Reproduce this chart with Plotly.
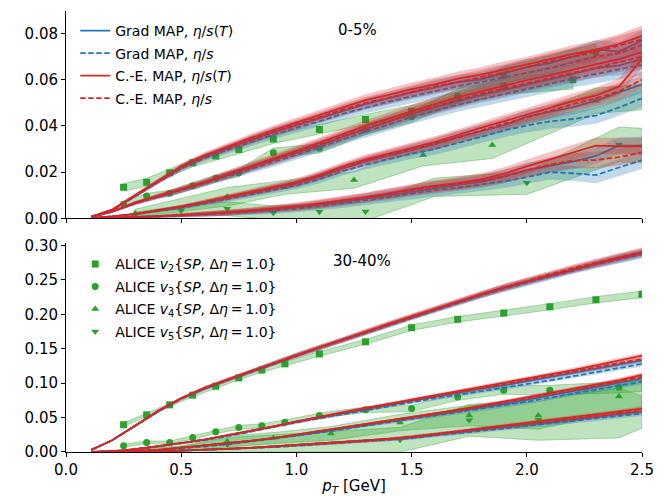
import numpy as np
import plotly.graph_objects as go

# ---------------- model pT grid ----------------
pt = [0.11, 0.2, 0.3, 0.4, 0.5, 0.6, 0.7, 0.8, 0.9, 1.0, 1.1, 1.2, 1.3,
      1.4, 1.5, 1.6, 1.7, 1.8, 1.9, 2.0, 2.1, 2.2, 2.3, 2.4, 2.5]

# ---------------- 0-5% model curves ----------------
top_v2_ce_T = [0.0007, 0.0037, 0.0100, 0.0163, 0.0225, 0.0272, 0.0310, 0.0347, 0.0382, 0.0415, 0.0447, 0.0482, 0.0512,
               0.0535, 0.0560, 0.0580, 0.0605, 0.0622, 0.0645, 0.0665, 0.0690, 0.0712, 0.0730, 0.0755, 0.0790]
top_v2_ce_c = [0.0007, 0.0036, 0.0098, 0.0160, 0.0220, 0.0268, 0.0305, 0.0340, 0.0375, 0.0405, 0.0437, 0.0470, 0.0500,
               0.0522, 0.0548, 0.0572, 0.0590, 0.0610, 0.0632, 0.0655, 0.0680, 0.0700, 0.0722, 0.0748, 0.0775]
top_v2_gr_T = [0.0007, 0.0036, 0.0097, 0.0160, 0.0220, 0.0266, 0.0303, 0.0338, 0.0372, 0.0402, 0.0432, 0.0465, 0.0495,
               0.0520, 0.0545, 0.0566, 0.0590, 0.0602, 0.0628, 0.0655, 0.0672, 0.0700, 0.0732, 0.0722, 0.0770]
top_v2_gr_c = [0.0007, 0.0035, 0.0095, 0.0157, 0.0215, 0.0260, 0.0296, 0.0330, 0.0362, 0.0392, 0.0420, 0.0452, 0.0480,
               0.0505, 0.0528, 0.0550, 0.0572, 0.0590, 0.0610, 0.0632, 0.0650, 0.0675, 0.0700, 0.0715, 0.0750]

top_v3_ce_T = [0.0005, 0.0030, 0.0068, 0.0098, 0.0127, 0.0157, 0.0192, 0.0225, 0.0258, 0.0292, 0.0328, 0.0365, 0.0400,
               0.0432, 0.0465, 0.0495, 0.0525, 0.0550, 0.0575, 0.0598, 0.0620, 0.0645, 0.0668, 0.0690, 0.0720]
top_v3_ce_c = [0.0005, 0.0029, 0.0066, 0.0096, 0.0124, 0.0153, 0.0188, 0.0220, 0.0252, 0.0286, 0.0320, 0.0356, 0.0390,
               0.0420, 0.0455, 0.0485, 0.0512, 0.0540, 0.0562, 0.0585, 0.0610, 0.0630, 0.0652, 0.0675, 0.0700]
top_v3_gr_T = [0.0005, 0.0029, 0.0066, 0.0095, 0.0123, 0.0152, 0.0186, 0.0218, 0.0250, 0.0283, 0.0316, 0.0352, 0.0386,
               0.0418, 0.0452, 0.0480, 0.0508, 0.0532, 0.0555, 0.0578, 0.0600, 0.0625, 0.0650, 0.0662, 0.0690]
top_v3_gr_c = [0.0005, 0.0028, 0.0064, 0.0093, 0.0120, 0.0148, 0.0180, 0.0212, 0.0243, 0.0275, 0.0307, 0.0342, 0.0375,
               0.0405, 0.0438, 0.0465, 0.0492, 0.0515, 0.0538, 0.0560, 0.0582, 0.0605, 0.0625, 0.0645, 0.0665]

top_v4_ce_T = [0.0002, 0.0008, 0.0019, 0.0035, 0.0051, 0.0071, 0.0092, 0.0113, 0.0134, 0.0157, 0.0188, 0.0224, 0.0255,
               0.0280, 0.0305, 0.0330, 0.0360, 0.0392, 0.0420, 0.0448, 0.0478, 0.0508, 0.0532, 0.0570, 0.0690]
top_v4_ce_c = [0.0002, 0.0008, 0.0018, 0.0034, 0.0049, 0.0069, 0.0089, 0.0110, 0.0130, 0.0152, 0.0183, 0.0218, 0.0250,
               0.0275, 0.0300, 0.0322, 0.0350, 0.0380, 0.0410, 0.0436, 0.0465, 0.0495, 0.0520, 0.0550, 0.0600]
top_v4_gr_T = [0.0002, 0.0008, 0.0018, 0.0033, 0.0048, 0.0068, 0.0088, 0.0108, 0.0128, 0.0150, 0.0180, 0.0215, 0.0246,
               0.0270, 0.0296, 0.0320, 0.0352, 0.0378, 0.0402, 0.0440, 0.0462, 0.0482, 0.0510, 0.0545, 0.0580]
top_v4_gr_c = [0.0002, 0.0007, 0.0017, 0.0031, 0.0045, 0.0064, 0.0083, 0.0102, 0.0121, 0.0142, 0.0170, 0.0204, 0.0232,
               0.0256, 0.0280, 0.0300, 0.0325, 0.0352, 0.0380, 0.0402, 0.0420, 0.0430, 0.0445, 0.0480, 0.0520]

top_v5_ce_T = [0.0000, 0.0002, 0.0005, 0.0009, 0.0014, 0.0019, 0.0026, 0.0034, 0.0042, 0.0052, 0.0064, 0.0077, 0.0092,
               0.0108, 0.0126, 0.0140, 0.0152, 0.0168, 0.0192, 0.0225, 0.0255, 0.0285, 0.0315, 0.0312, 0.0312]
top_v5_ce_c = [0.0000, 0.0002, 0.0005, 0.0008, 0.0013, 0.0018, 0.0024, 0.0032, 0.0040, 0.0049, 0.0061, 0.0074, 0.0090,
               0.0106, 0.0122, 0.0138, 0.0150, 0.0162, 0.0182, 0.0208, 0.0232, 0.0250, 0.0252, 0.0265, 0.0285]
top_v5_gr_T = [0.0000, 0.0002, 0.0005, 0.0008, 0.0012, 0.0017, 0.0023, 0.0030, 0.0037, 0.0046, 0.0058, 0.0070, 0.0085,
               0.0100, 0.0117, 0.0132, 0.0145, 0.0158, 0.0180, 0.0210, 0.0228, 0.0245, 0.0270, 0.0315, 0.0315]
top_v5_gr_c = [0.0000, 0.0001, 0.0004, 0.0007, 0.0011, 0.0015, 0.0021, 0.0027, 0.0034, 0.0042, 0.0052, 0.0064, 0.0078,
               0.0092, 0.0108, 0.0122, 0.0132, 0.0145, 0.0160, 0.0178, 0.0200, 0.0195, 0.0187, 0.0220, 0.0252]

top_err_v23 = [0.0002, 0.0005, 0.0008, 0.0010, 0.0012, 0.0014, 0.0016, 0.0018, 0.0020, 0.0021, 0.0022, 0.0024, 0.0025,
               0.0027, 0.0028, 0.0030, 0.0031, 0.0032, 0.0034, 0.0035, 0.0036, 0.0038, 0.0040, 0.0042, 0.0045]
top_err_v45 = [0.0001, 0.0002, 0.0004, 0.0006, 0.0008, 0.0010, 0.0012, 0.0013, 0.0015, 0.0016, 0.0018, 0.0019, 0.0020,
               0.0022, 0.0023, 0.0025, 0.0026, 0.0027, 0.0029, 0.0030, 0.0032, 0.0033, 0.0035, 0.0036, 0.0038]

# ---------------- 30-40% model curves ----------------
bot_v2_ce_T = [0.003, 0.017, 0.038, 0.060, 0.078, 0.093, 0.105, 0.117, 0.129, 0.141, 0.152, 0.163, 0.175,
               0.186, 0.197, 0.208, 0.219, 0.229, 0.239, 0.248, 0.257, 0.266, 0.274, 0.282, 0.290]
bot_v2_ce_c = [0.003, 0.017, 0.038, 0.059, 0.078, 0.093, 0.105, 0.117, 0.129, 0.141, 0.152, 0.163, 0.174,
               0.186, 0.197, 0.208, 0.219, 0.229, 0.239, 0.249, 0.258, 0.267, 0.275, 0.283, 0.291]
bot_v2_gr_T = [0.003, 0.017, 0.038, 0.059, 0.078, 0.092, 0.105, 0.117, 0.129, 0.141, 0.152, 0.163, 0.174,
               0.185, 0.196, 0.207, 0.218, 0.228, 0.238, 0.247, 0.256, 0.265, 0.273, 0.281, 0.288]
bot_v2_gr_c = [0.003, 0.017, 0.038, 0.059, 0.077, 0.092, 0.104, 0.116, 0.128, 0.140, 0.151, 0.162, 0.173,
               0.184, 0.195, 0.206, 0.217, 0.227, 0.237, 0.246, 0.255, 0.264, 0.272, 0.280, 0.287]

bot_v3_ce_T = [0.000, 0.001, 0.004, 0.008, 0.013, 0.018, 0.024, 0.030, 0.037, 0.044, 0.051, 0.058, 0.064,
               0.070, 0.076, 0.082, 0.088, 0.094, 0.100, 0.106, 0.112, 0.119, 0.126, 0.133, 0.140]
bot_v3_ce_c = [0.000, 0.001, 0.004, 0.008, 0.013, 0.018, 0.024, 0.030, 0.037, 0.044, 0.051, 0.057, 0.063,
               0.069, 0.075, 0.081, 0.087, 0.092, 0.098, 0.104, 0.110, 0.116, 0.122, 0.129, 0.135]
bot_v3_gr_T = [0.000, 0.001, 0.004, 0.008, 0.013, 0.018, 0.024, 0.030, 0.037, 0.044, 0.050, 0.057, 0.063,
               0.069, 0.075, 0.081, 0.086, 0.092, 0.097, 0.103, 0.109, 0.115, 0.121, 0.127, 0.133]
bot_v3_gr_c = [0.000, 0.001, 0.004, 0.008, 0.012, 0.017, 0.023, 0.029, 0.036, 0.043, 0.049, 0.055, 0.061,
               0.067, 0.073, 0.078, 0.083, 0.088, 0.093, 0.099, 0.104, 0.110, 0.116, 0.122, 0.128]

bot_v4_ce_T = [0.000, 0.0005, 0.0015, 0.003, 0.006, 0.009, 0.012, 0.016, 0.020, 0.025, 0.030, 0.035, 0.040,
               0.045, 0.050, 0.055, 0.061, 0.067, 0.073, 0.079, 0.085, 0.091, 0.097, 0.104, 0.112]
bot_v4_ce_c = [0.000, 0.0005, 0.0015, 0.003, 0.006, 0.009, 0.012, 0.016, 0.020, 0.025, 0.030, 0.035, 0.040,
               0.045, 0.050, 0.055, 0.060, 0.066, 0.072, 0.078, 0.084, 0.090, 0.096, 0.102, 0.109]
bot_v4_gr_T = [0.000, 0.0005, 0.0015, 0.003, 0.006, 0.009, 0.012, 0.016, 0.020, 0.024, 0.029, 0.034, 0.039,
               0.044, 0.049, 0.054, 0.059, 0.065, 0.070, 0.076, 0.082, 0.088, 0.094, 0.100, 0.107]
bot_v4_gr_c = [0.000, 0.0005, 0.0015, 0.003, 0.005, 0.008, 0.011, 0.015, 0.019, 0.023, 0.028, 0.033, 0.038,
               0.043, 0.047, 0.052, 0.057, 0.062, 0.067, 0.073, 0.079, 0.085, 0.090, 0.096, 0.102]

bot_v5_ce_T = [0.000, 0.000, 0.0005, 0.001, 0.002, 0.003, 0.004, 0.006, 0.008, 0.010, 0.012, 0.014, 0.016,
               0.019, 0.022, 0.026, 0.030, 0.034, 0.038, 0.042, 0.046, 0.050, 0.054, 0.058, 0.063]
bot_v5_ce_c = [0.000, 0.000, 0.0005, 0.001, 0.002, 0.003, 0.004, 0.006, 0.008, 0.010, 0.012, 0.014, 0.016,
               0.019, 0.022, 0.026, 0.029, 0.033, 0.037, 0.041, 0.045, 0.048, 0.052, 0.056, 0.060]
bot_v5_gr_T = [0.000, 0.000, 0.0005, 0.001, 0.002, 0.003, 0.004, 0.006, 0.008, 0.010, 0.012, 0.014, 0.016,
               0.018, 0.021, 0.025, 0.029, 0.033, 0.036, 0.040, 0.043, 0.047, 0.051, 0.055, 0.059]
bot_v5_gr_c = [0.000, 0.000, 0.0005, 0.001, 0.002, 0.003, 0.004, 0.005, 0.007, 0.009, 0.011, 0.013, 0.015,
               0.018, 0.020, 0.024, 0.027, 0.031, 0.034, 0.038, 0.041, 0.045, 0.049, 0.052, 0.056]

bot_err_v2 = [0.0005, 0.0010, 0.0015, 0.0020, 0.0020, 0.0025, 0.0025, 0.0030, 0.0030, 0.0030, 0.0035, 0.0035, 0.0040,
              0.0040, 0.0040, 0.0045, 0.0045, 0.0045, 0.0050, 0.0050, 0.0050, 0.0055, 0.0055, 0.0060, 0.0060]
bot_err_v345 = [0.0001, 0.0002, 0.0004, 0.0006, 0.0008, 0.0010, 0.0012, 0.0013, 0.0015, 0.0016, 0.0018, 0.0019, 0.0020,
                0.0022, 0.0023, 0.0025, 0.0026, 0.0027, 0.0029, 0.0030, 0.0032, 0.0033, 0.0035, 0.0036, 0.0038]

# ---------------- ALICE data, 0-5% ----------------
a_top_v2_pt = [0.25, 0.35, 0.45, 0.55, 0.65, 0.75, 0.9, 1.1, 1.3, 1.5, 1.7, 1.9, 2.2]
a_top_v2 = [0.0134, 0.0156, 0.0197, 0.0240, 0.0270, 0.0298, 0.0343, 0.0385, 0.0428, 0.0464, 0.0519, 0.0572, 0.0600]
a_top_v2_err = [0.0017, 0.0017, 0.0017, 0.0017, 0.0018, 0.0018, 0.0019, 0.0020, 0.0022, 0.0025, 0.0030, 0.0035, 0.0040]
a_top_v3_pt = [0.25, 0.35, 0.45, 0.55, 0.65, 0.75, 0.9, 1.1, 1.3, 1.5, 1.7, 1.9, 2.3]
a_top_v3 = [0.0061, 0.0096, 0.0108, 0.0141, 0.0173, 0.0197, 0.0284, 0.0303, 0.0385, 0.0440, 0.0530, 0.0620, 0.0716]
a_top_v3_err = [0.0012, 0.0012, 0.0013, 0.0014, 0.0015, 0.0016, 0.0020, 0.0020, 0.0022, 0.0025, 0.0030, 0.0035, 0.0040]
a_top_v4_pt = [0.3, 0.7, 0.95, 1.25, 1.55, 1.85, 2.3]
a_top_v4 = [0.0022, 0.0093, 0.0134, 0.0166, 0.0274, 0.0317, 0.0509]
a_top_v4_err = [0.0017, 0.0040, 0.0030, 0.0036, 0.0047, 0.0058, 0.0055]
a_top_v5_pt = [0.3, 0.5, 0.7, 0.9, 1.1, 1.3, 1.6, 2.0, 2.4]
a_top_v5 = [0.0012, 0.0034, 0.0041, 0.0024, 0.0028, 0.0029, 0.0134, 0.0154, 0.0320]
a_top_v5_err = [0.0015, 0.0020, 0.0030, 0.0030, 0.0035, 0.0040, 0.0040, 0.0050, 0.0075]

# ---------------- ALICE data, 30-40% ----------------
a_bot_v2_pt = [0.25, 0.35, 0.45, 0.55, 0.65, 0.75, 0.85, 0.95, 1.1, 1.3, 1.5, 1.7, 1.9, 2.1, 2.3, 2.5]
a_bot_v2 = [0.0396, 0.0540, 0.0685, 0.0826, 0.0956, 0.1077, 0.1190, 0.1280, 0.1425, 0.1600, 0.1806, 0.1927,
            0.2018, 0.2110, 0.2211, 0.2290]
a_bot_v2_err = [0.0025, 0.0025, 0.0025, 0.0025, 0.0030, 0.0030, 0.0030, 0.0030, 0.0035, 0.0035, 0.0040, 0.0040,
                0.0040, 0.0045, 0.0045, 0.0050]
a_bot_v3_pt = [0.25, 0.35, 0.45, 0.55, 0.65, 0.75, 0.85, 0.95, 1.1, 1.3, 1.5, 1.7, 1.9, 2.1, 2.4]
a_bot_v3 = [0.0091, 0.0139, 0.0139, 0.0212, 0.0294, 0.0357, 0.0381, 0.0434, 0.0530, 0.0613, 0.0632, 0.0800,
            0.0898, 0.0898, 0.0940]
a_bot_v3_err = [0.0020, 0.0020, 0.0020, 0.0025, 0.0025, 0.0030, 0.0030, 0.0030, 0.0035, 0.0040, 0.0045, 0.0050,
                0.0060, 0.0070, 0.0080]
a_bot_v4_pt = [0.3, 0.5, 0.7, 0.9, 1.15, 1.45, 1.75, 2.05, 2.4]
a_bot_v4 = [0.0020, 0.0048, 0.0154, 0.0203, 0.0270, 0.0429, 0.0530, 0.0530, 0.0806]
a_bot_v4_err = [0.0030, 0.0040, 0.0080, 0.0080, 0.0100, 0.0120, 0.0150, 0.0200, 0.0220]
a_bot_v5_pt = [0.3, 0.5, 0.7, 1.45, 1.75, 2.05, 2.4]
a_bot_v5 = [0.0015, 0.0030, 0.0110, 0.0178, 0.0460, 0.0470, 0.0565]
a_bot_v5_err = [0.0030, 0.0050, 0.0100, 0.0180, 0.0230, 0.0300, 0.0360]

# band edges read at the right border (pT = 2.5) where the ALICE bands continue off-axis:
# [centre, half-width]
a_top_v4_edge = [0.0525, 0.0055]
a_top_v5_edge = [0.0315, 0.0075]
a_bot_v3_edge = [0.0960, 0.0080]
a_bot_v4_edge = [0.0850, 0.0200]
a_bot_v5_edge = [0.0580, 0.0235]

legend_models = ["Grad MAP, <i>η</i>/<i>s</i>(<i>T</i>)", "Grad MAP, <i>η</i>/<i>s</i>",
                 "C.-E. MAP, <i>η</i>/<i>s</i>(<i>T</i>)", "C.-E. MAP, <i>η</i>/<i>s</i>"]
legend_alice = ["ALICE <i>v</i><sub>%d</sub>{<i>SP</i>, Δ<i>η</i>\u2009=\u20091.0}" % n for n in (2, 3, 4, 5)]

# ---------------- styling ----------------
BLUE = "#1f77b4"
RED = "#d62728"
GREEN = "#2ca02c"
BLUE_F = "rgba(31,119,180,0.28)"
RED_F = "rgba(214,39,40,0.28)"
GREEN_F = "rgba(44,160,44,0.30)"
GREEN_E = "rgba(44,160,44,0.35)"
FONT = "DejaVu Sans"
DASH = "5.5px,2.5px"
X_EDGE = 2.5

fig = go.Figure()


def band(x, y, e, color, xa, ya, edge=None, tail=None):
    x = list(x)
    y = list(y)
    e = list(e)
    if tail is not None:
        x = x + [X_EDGE]
        y = y + [tail[0]]
        e = e + [tail[1]]
    x = np.asarray(x, float)
    y = np.asarray(y, float)
    e = np.asarray(e, float)
    fig.add_trace(go.Scatter(
        x=np.concatenate([x, x[::-1]]), y=np.concatenate([y + e, (y - e)[::-1]]),
        fill="toself", fillcolor=color, mode="lines",
        line=dict(width=1 if edge else 0, color=edge if edge else color),
        hoverinfo="skip", showlegend=False, xaxis=xa, yaxis=ya))


def curve(x, y, color, dash, xa, ya, name=None, show=False):
    fig.add_trace(go.Scatter(
        x=x, y=y, mode="lines", line=dict(color=color, width=1.8, dash=dash),
        name=name, showlegend=show, legend="legend", legendgroup=name, xaxis=xa, yaxis=ya))


panels = [
    ("x2", "y2",
     [(a_top_v2_pt, a_top_v2, a_top_v2_err, "square", None),
      (a_top_v3_pt, a_top_v3, a_top_v3_err, "circle", None),
      (a_top_v4_pt, a_top_v4, a_top_v4_err, "triangle-up", a_top_v4_edge),
      (a_top_v5_pt, a_top_v5, a_top_v5_err, "triangle-down", a_top_v5_edge)],
     [[top_v2_gr_T, top_v3_gr_T, top_v4_gr_T, top_v5_gr_T],
      [top_v2_gr_c, top_v3_gr_c, top_v4_gr_c, top_v5_gr_c],
      [top_v2_ce_T, top_v3_ce_T, top_v4_ce_T, top_v5_ce_T],
      [top_v2_ce_c, top_v3_ce_c, top_v4_ce_c, top_v5_ce_c]],
     [top_err_v23, top_err_v23, top_err_v45, top_err_v45], True),
    ("x", "y",
     [(a_bot_v2_pt, a_bot_v2, a_bot_v2_err, "square", None),
      (a_bot_v3_pt, a_bot_v3, a_bot_v3_err, "circle", a_bot_v3_edge),
      (a_bot_v4_pt, a_bot_v4, a_bot_v4_err, "triangle-up", a_bot_v4_edge),
      (a_bot_v5_pt, a_bot_v5, a_bot_v5_err, "triangle-down", a_bot_v5_edge)],
     [[bot_v2_gr_T, bot_v3_gr_T, bot_v4_gr_T, bot_v5_gr_T],
      [bot_v2_gr_c, bot_v3_gr_c, bot_v4_gr_c, bot_v5_gr_c],
      [bot_v2_ce_T, bot_v3_ce_T, bot_v4_ce_T, bot_v5_ce_T],
      [bot_v2_ce_c, bot_v3_ce_c, bot_v4_ce_c, bot_v5_ce_c]],
     [bot_err_v2, bot_err_v345, bot_err_v345, bot_err_v345], False),
]

model_styles = [(BLUE, BLUE_F, "solid"), (BLUE, BLUE_F, DASH), (RED, RED_F, "solid"), (RED, RED_F, DASH)]

for xa, ya, alice, models, errs, is_top in panels:
    for k, (apt, av, ae, sym, tail) in enumerate(alice):
        band(apt, av, ae, GREEN_F, xa, ya, edge=GREEN_E, tail=tail)
    for k, (apt, av, ae, sym, tail) in enumerate(alice):
        fig.add_trace(go.Scatter(
            x=apt, y=av, mode="markers",
            marker=dict(symbol=sym, color=GREEN, size=7, line=dict(width=0)),
            name=legend_alice[k], showlegend=not is_top, legend="legend2",
            legendgroup="alice%d" % k, xaxis=xa, yaxis=ya))
    for m, (lc, fc, dash) in enumerate(model_styles):
        for h in range(4):
            band(pt, models[m][h], errs[h], fc, xa, ya)
            curve(pt, models[m][h], lc, dash, xa, ya, name=legend_models[m],
                  show=(is_top and h == 0))

axis_common = dict(showline=True, linecolor="black", linewidth=1, ticks="outside", ticklen=4,
                   tickwidth=1, tickcolor="black", showgrid=False, zeroline=False, automargin=False,
                   tickfont=dict(family=FONT, size=15, color="black"), mirror=False)

# the page body adds an 8 px offset, so the figure is 8 px smaller on each side
fig.update_layout(
    template="none",
    width=661, height=488,
    margin=dict(l=58, r=27, t=3, b=44, pad=0),
    paper_bgcolor="white", plot_bgcolor="white",
    font=dict(family=FONT, size=15, color="black"),
    xaxis=dict(domain=[0, 1], range=[0, 2.5], dtick=0.5, tick0=0, tickformat=".1f", anchor="y",
               title=dict(text="<i>p</i><sub><i>T</i></sub> [GeV]", font=dict(family=FONT, size=15),
                          standoff=4),
               **axis_common),
    yaxis=dict(domain=[0, 0.473], range=[0, 0.303], dtick=0.05, tick0=0, tickformat=".2f", anchor="x",
               **axis_common),
    xaxis2=dict(domain=[0, 1], range=[0, 2.5], dtick=0.5, tick0=0, anchor="y2", matches="x",
                showticklabels=False, **axis_common),
    yaxis2=dict(domain=[0.530, 1], range=[0, 0.0898], dtick=0.02, tick0=0, tickformat=".2f",
                anchor="x2", **axis_common),
    legend=dict(x=0.016, y=0.991, xanchor="left", yanchor="top", bgcolor="rgba(0,0,0,0)",
                font=dict(family=FONT, size=14), tracegroupgap=1.3, traceorder="grouped"),
    legend2=dict(x=0.016, y=0.4617, xanchor="left", yanchor="top", bgcolor="rgba(0,0,0,0)",
                 font=dict(family=FONT, size=14), tracegroupgap=1.3, traceorder="grouped"),
    annotations=[
        dict(text="0-5%", x=1.173, y=0.0814, xref="x2", yref="y2", xanchor="left", yanchor="middle",
             showarrow=False, font=dict(family=FONT, size=15)),
        dict(text="30-40%", x=1.151, y=0.2777, xref="x", yref="y", xanchor="left", yanchor="middle",
             showarrow=False, font=dict(family=FONT, size=15)),
    ],
)

fig.write_html("out.html")
